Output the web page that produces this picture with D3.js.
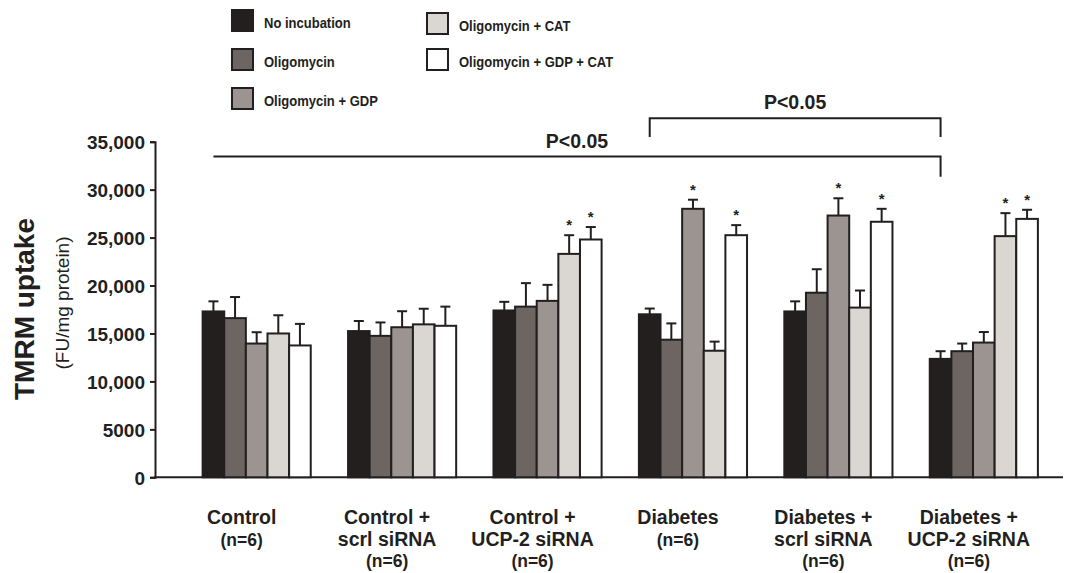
<!DOCTYPE html>
<html>
<head>
<meta charset="utf-8">
<script src="https://cdn.jsdelivr.net/npm/d3@7"></script>
<style>
  html, body { margin: 0; padding: 0; background: #fff; }
  svg { display: block; font-family: 'Liberation Sans', Arial, sans-serif; font-weight: bold; }
</style>
</head>
<body>
<div id="chart"></div>
<script>
const groups = ['Control', 'Control + scrl siRNA', 'Control + UCP-2 siRNA', 'Diabetes', 'Diabetes + scrl siRNA', 'Diabetes + UCP-2 siRNA']
const groupLines = [
  ['Control', '(n=6)'],
  ['Control +', 'scrl siRNA', '(n=6)'],
  ['Control +', 'UCP-2 siRNA', '(n=6)'],
  ['Diabetes', '(n=6)'],
  ['Diabetes +', 'scrl siRNA', '(n=6)'],
  ['Diabetes +', 'UCP-2 siRNA', '(n=6)'],
]
const seriesNames = ['No incubation', 'Oligomycin', 'Oligomycin + GDP', 'Oligomycin + CAT', 'Oligomycin + GDP + CAT']
const seriesColors = ['#231f1f', '#6d6562', '#9b9491', '#dad6d2', '#ffffff']

// means per series, one value per group
const noIncubation = [17300, 15250, 17400, 17000, 17300, 12350]
const oligomycin = [16600, 14750, 17800, 14350, 19250, 13150]
const oligoGdp = [13950, 15650, 18400, 28000, 27300, 14050]
const oligoCat = [15000, 15950, 23300, 13200, 17700, 25150]
const oligoGdpCat = [13750, 15800, 24800, 25250, 26650, 26950]

// error bars (upper only)
const errNoIncubation = [1050, 1050, 900, 600, 1050, 800]
const errOligomycin = [2200, 1400, 2450, 1700, 2450, 800]
const errOligoGdp = [1180, 1670, 1670, 950, 1800, 1100]
const errOligoCat = [1900, 1630, 1950, 950, 1780, 2400]
const errOligoGdpCat = [2250, 2000, 1300, 1050, 1350, 950]

// * marks
const starNoIncubation = [0, 0, 0, 0, 0, 0]
const starOligomycin = [0, 0, 0, 0, 0, 0]
const starOligoGdp = [0, 0, 0, 1, 1, 0]
const starOligoCat = [0, 0, 1, 0, 0, 1]
const starOligoGdpCat = [0, 0, 1, 1, 1, 1]

const yTicks = [0, 5000, 10000, 15000, 20000, 25000, 30000, 35000]

// significance brackets: from group -> to group (first bar), line level, drop level
const brackets = [
  { from: 0, to: 5, level: 33450, leftDrop: null, rightDrop: 31350, label: 'P<0.05' },
  { from: 3, to: 5, level: 37450, leftDrop: 35500, rightDrop: 35500, label: 'P<0.05' },
]

const means = [noIncubation, oligomycin, oligoGdp, oligoCat, oligoGdpCat]
const errs = [errNoIncubation, errOligomycin, errOligoGdp, errOligoCat, errOligoGdpCat]
const stars = [starNoIncubation, starOligomycin, starOligoGdp, starOligoCat, starOligoGdpCat]

const width = 1065
const height = 573
const ink = '#231f20'

const svg = d3.select('#chart')
  .append('svg')
  .attr('width', width)
  .attr('height', height)

const y = d3.scaleLinear().domain([0, 35000]).range([477.3, 141.7])

const x0 = d3.scaleBand()
  .domain(groups)
  .range([184, 1056.5])
  .paddingInner(0.2565)
  .paddingOuter(0.128)

const x1 = d3.scaleBand()
  .domain(seriesNames)
  .range([0, x0.bandwidth()])

const tickFmt = (d) => d >= 10000 ? d3.format(',')(d) : String(d)

// y axis
const yAxis = svg.append('g')
  .attr('transform', 'translate(155,0)')
  .call(d3.axisLeft(y).tickValues(yTicks).tickFormat(tickFmt).tickSize(5).tickPadding(5))

yAxis.select('.domain').attr('stroke', ink).attr('stroke-width', 2)
yAxis.selectAll('.tick line').attr('stroke', ink).attr('stroke-width', 2)
yAxis.selectAll('.tick text')
  .attr('fill', ink)
  .style('font-size', '19px')
  .style('font-family', "'Liberation Sans', Arial, sans-serif")
  .style('font-weight', 'bold')
  .attr('dy', '0.36em')

// x baseline
svg.append('line')
  .attr('x1', 154).attr('x2', 1063)
  .attr('y1', y(0)).attr('y2', y(0))
  .attr('stroke', ink).attr('stroke-width', 2)

// bars
const rows = []
groups.forEach((g, gi) => {
  seriesNames.forEach((s, si) => {
    rows.push({ group: g, series: s, si, value: means[si][gi], err: errs[si][gi], star: stars[si][gi] })
  })
})

const barG = svg.append('g')

// error bars behind bars
const cap = 5
const eb = barG.selectAll('.err').data(rows).enter().append('g').attr('class', 'err')
eb.append('line')
  .attr('x1', (d) => x0(d.group) + x1(d.series) + x1.bandwidth() / 2)
  .attr('x2', (d) => x0(d.group) + x1(d.series) + x1.bandwidth() / 2)
  .attr('y1', (d) => y(d.value))
  .attr('y2', (d) => y(d.value + d.err))
  .attr('stroke', ink).attr('stroke-width', 2)
eb.append('line')
  .attr('x1', (d) => x0(d.group) + x1(d.series) + x1.bandwidth() / 2 - cap)
  .attr('x2', (d) => x0(d.group) + x1(d.series) + x1.bandwidth() / 2 + cap)
  .attr('y1', (d) => y(d.value + d.err))
  .attr('y2', (d) => y(d.value + d.err))
  .attr('stroke', ink).attr('stroke-width', 2)

barG.selectAll('.bar').data(rows).enter().append('rect')
  .attr('class', 'bar')
  .attr('x', (d) => x0(d.group) + x1(d.series))
  .attr('y', (d) => y(d.value))
  .attr('width', x1.bandwidth())
  .attr('height', (d) => y(0) - y(d.value))
  .attr('fill', (d) => seriesColors[d.si])
  .attr('stroke', ink)
  .attr('stroke-width', 2)

barG.selectAll('.star').data(rows.filter((d) => d.star)).enter().append('text')
  .attr('class', 'star')
  .attr('x', (d) => x0(d.group) + x1(d.series) + x1.bandwidth() / 2)
  .attr('y', (d) => y(d.value + d.err) - 5)
  .attr('text-anchor', 'middle')
  .attr('fill', ink)
  .style('font-size', '15px')
  .text('*')

// significance brackets
const barCenter = (gi) => x0(groups[gi]) + x1(seriesNames[0]) + x1.bandwidth() / 2
brackets.forEach((b) => {
  const xa = barCenter(b.from)
  const xb = barCenter(b.to)
  const pts = []
  if (b.leftDrop != null) pts.push([xa, y(b.leftDrop)])
  pts.push([xa, y(b.level)], [xb, y(b.level)], [xb, y(b.rightDrop)])
  svg.append('path')
    .attr('d', d3.line()(pts))
    .attr('fill', 'none')
    .attr('stroke', ink)
    .attr('stroke-width', 2)
  svg.append('text')
    .attr('x', (xa + xb) / 2)
    .attr('y', y(b.level) - 9)
    .attr('text-anchor', 'middle')
    .attr('fill', ink)
    .style('font-size', '19.5px')
    .text(b.label)
})

// group labels
const labelG = svg.append('g')
groupLines.forEach((lines, gi) => {
  const cx = x0(groups[gi]) + x0.bandwidth() / 2 - 15
  const t = labelG.append('text')
    .attr('x', cx)
    .attr('y', 524)
    .attr('text-anchor', 'middle')
    .attr('fill', ink)
  lines.forEach((ln, li) => {
    t.append('tspan')
      .attr('x', cx)
      .attr('dy', li === 0 ? 0 : 21.5)
      .style('font-size', ln.startsWith('(') ? '17.5px' : '19.5px')
      .text(ln)
  })
})

// y title
svg.append('text')
  .attr('transform', 'translate(34,309) rotate(-90)')
  .attr('text-anchor', 'middle')
  .attr('fill', ink)
  .style('font-size', '28px')
  .text('TMRM uptake')

svg.append('text')
  .attr('transform', 'translate(69,303) rotate(-90)')
  .attr('text-anchor', 'middle')
  .attr('fill', ink)
  .style('font-size', '19px')
  .style('font-weight', 'normal')
  .text('(FU/mg protein)')

// legend
const legendPos = [[232, 10], [232, 49], [232, 88], [427, 13], [427, 49]]
const legend = svg.append('g').attr('class', 'legend')
  .selectAll('g').data(seriesNames).enter().append('g')
  .attr('transform', (d, i) => `translate(${legendPos[i][0]},${legendPos[i][1]})`)

legend.append('rect')
  .attr('x', 0).attr('y', 0)
  .attr('width', 21).attr('height', 21)
  .attr('fill', (d, i) => seriesColors[i])
  .attr('stroke', ink).attr('stroke-width', 2)

// narrow look of the original legend font
legend.append('text')
  .attr('transform', 'translate(32,17.5) scale(0.84,1)')
  .attr('fill', ink)
  .style('font-size', '15.5px')
  .text((d) => d)
</script>
</body>
</html>
